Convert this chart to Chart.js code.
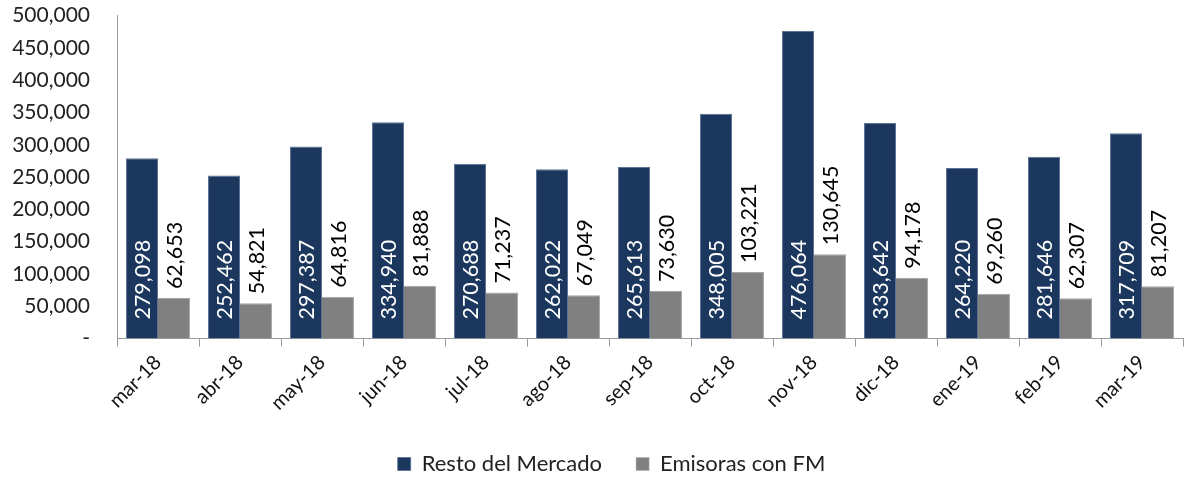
<!DOCTYPE html>
<html>
<head>
<meta charset="utf-8">
<script src="https://cdn.jsdelivr.net/npm/chart.js@4.4.0/dist/chart.umd.min.js"></script>
<style>
  html, body { margin: 0; padding: 0; background: #fff; }
  #wrap { width: 1191px; height: 485px; }
</style>
</head>
<body>
<div id="wrap"><canvas id="chart"></canvas></div>
<script>
// Months on the x axis
const months = ['mar-18', 'abr-18', 'may-18', 'jun-18', 'jul-18', 'ago-18', 'sep-18',
    'oct-18', 'nov-18', 'dic-18', 'ene-19', 'feb-19', 'mar-19'];

// Series values
const restoMercado = [279098, 252462, 297387, 334940, 270688, 262022, 265613,
    348005, 476064, 333642, 264220, 281646, 317709];
const emisorasFM = [62653, 54821, 64816, 81888, 71237, 67049, 73630,
    103221, 130645, 94178, 69260, 62307, 81207];

const seriesNames = ['Resto del Mercado', 'Emisoras con FM'];

const FONT = 'Lato, "Open Sans", sans-serif';
const fmt = v => v.toLocaleString('en-US');

// Draws the rotated value labels on each bar
const barLabels = {
    id: 'barLabels',
    afterDatasetsDraw(chart) {
        const ctx = chart.ctx;
        ctx.save();
        ctx.font = '21.5px ' + FONT;
        ctx.textBaseline = 'middle';
        ctx.textAlign = 'left';
        chart.data.datasets.forEach((ds, di) => {
            const meta = chart.getDatasetMeta(di);
            meta.data.forEach((bar, i) => {
                ctx.save();
                if (di === 0) {
                    // inside the bar, reading upward from the base
                    ctx.translate(bar.x, bar.base - 19);
                    ctx.fillStyle = '#ffffff';
                } else {
                    // just above the bar
                    ctx.translate(bar.x, bar.y - 9);
                    ctx.fillStyle = '#000000';
                }
                ctx.rotate(-Math.PI / 2);
                ctx.fillText(fmt(ds.data[i]), 0, 1);
                ctx.restore();
            });
        });
        ctx.restore();
    }
};

// Legend sits a little right of the canvas centre in the original
const legendShift = {
    id: 'legendShift',
    afterLayout(chart) {
        chart.legend.left += 20;
        chart.legend.right += 20;
    }
};

new Chart(document.getElementById('chart'), {
    type: 'bar',
    data: {
        labels: months,
        datasets: [
            {
                label: seriesNames[0],
                data: restoMercado,
                backgroundColor: '#1b375e',
                borderColor: '#5a7394',
                borderWidth: { top: 1, left: 1, right: 1, bottom: 0 },
                categoryPercentage: 0.78,
                barPercentage: 1
            },
            {
                label: seriesNames[1],
                data: emisorasFM,
                backgroundColor: '#808080',
                borderColor: '#a6a6a6',
                borderWidth: { top: 1, left: 0, right: 1, bottom: 0 },
                categoryPercentage: 0.78,
                barPercentage: 1
            }
        ]
    },
    options: {
        responsive: true,
        maintainAspectRatio: false,
        animation: false,
        layout: { padding: { left: 0, right: 8, top: 2, bottom: 0 } },
        plugins: {
            legend: {
                position: 'bottom',
                labels: {
                    boxWidth: 13,
                    boxHeight: 13,
                    padding: 34,
                    color: '#222',
                    font: { family: FONT, size: 22 }
                }
            },
            tooltip: { enabled: false }
        },
        scales: {
            x: {
                grid: {
                    display: true,
                    drawOnChartArea: false,
                    offset: true,
                    tickLength: 8,
                    color: '#9a9a9a'
                },
                border: { color: '#9a9a9a', width: 1 },
                ticks: {
                    minRotation: 45,
                    maxRotation: 45,
                    color: '#111',
                    padding: 4,
                    font: { family: FONT, size: 20 }
                }
            },
            y: {
                min: 0,
                max: 500000,
                grid: { display: false, tickLength: 24 },
                border: { color: '#9a9a9a', width: 1 },
                ticks: {
                    stepSize: 50000,
                    color: '#222',
                    padding: 3,
                    font: { family: FONT, size: 21 },
                    callback: v => v === 0 ? '-' : fmt(v)
                },
                afterFit: scale => { scale.width = 117; }
            }
        }
    },
    plugins: [barLabels, legendShift]
});
</script>
</body>
</html>
